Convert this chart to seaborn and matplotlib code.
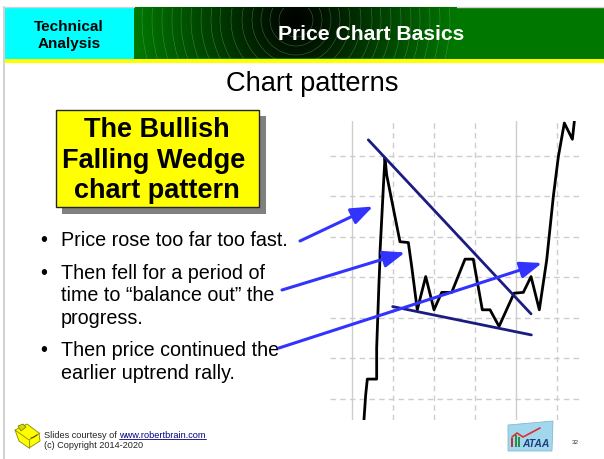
"""
Slide: bullish falling wedge chart pattern, price chart with trend lines.
"""

import numpy as np
import pandas as pd
import matplotlib.pyplot as plt
from matplotlib.patches import Rectangle, Circle, Polygon
import seaborn as sns

sns.set_theme(style="white")
plt.rcParams["font.family"] = ["Liberation Sans", "DejaVu Sans"]

# ── Data ──────────────────────────────────────────────────────────────────────

PRICE_DAY = [1.46, 1.67, 1.87, 3.01, 3.01, 3.29, 3.41, 3.41, 3.62, 3.82, 4.02, 4.23,
             5.85, 6.87, 7.28, 7.96, 8.99, 10.0, 10.94, 12.16, 13.78, 14.79, 15.89,
             16.83, 17.93, 19.76, 20.89, 21.83, 22.84, 23.74, 24.55, 25.16, 25.89,
             26.87, 27.11]
PRICE_VALUE = [-5.2, 1.0, 4.9, 4.9, 12.6, 28.6, 34.3, 36.0, 44.2, 52.1, 59.5, 55.3,
               38.8, 38.6, 32.7, 22.0, 30.2, 22.0, 26.3, 26.3, 34.5, 34.5, 22.0,
               22.0, 17.9, 26.1, 26.3, 30.2, 22.0, 34.3, 50.0, 59.8, 68.1,
               64.1, 68.5]

UPPER_DAY = [1.99, 21.83]
UPPER_VALUE = [63.95, 20.99]
LOWER_DAY = [4.96, 21.87]
LOWER_VALUE = [22.8, 15.8]

SOLID_DAYS = [0, 20]
DASHED_DAYS = [5, 10, 15, 25]
DASHED_VALUES = [0, 10, 20, 30, 40, 50, 60]

BOX_LINES = [(156.5, 137, "The Bullish"), (154, 168, "Falling Wedge"), (157, 198, "chart pattern")]
BULLET_LINES = [
    (246, True, "Price rose too far too fast."),
    (279, True, "Then fell for a period of"),
    (301, False, "time to \u201cbalance out\u201d the"),
    (324, False, "progress."),
    (356, True, "Then price continued the"),
    (379, False, "earlier uptrend rally."),
]
RING_RADII = [17, 26, 35, 44, 54, 65, 76, 85, 95, 105, 115, 124, 134, 144, 154]

# ── Style ─────────────────────────────────────────────────────────────────────

W, H = 604, 459
CYAN = "#00FFFF"
GREEN = "#007800"
YELLOW = "#FFFF00"
ARROW_BLUE = "#3333FF"
WEDGE_BLUE = "#1C1C80"
GRID = "#CDCDCD"

fig = plt.figure(figsize=(W / 100, H / 100), dpi=100, facecolor="white")

# ── Slide layer, in pixels ────────────────────────────────────────────────────

slide = fig.add_axes([0, 0, 1, 1], zorder=1)
slide.axis("off")

slide.plot([3.5, 3.5], [7, H], color="#D2D2D2", lw=1.5)
slide.plot([3, W], [7, 7], color="#D2D2D2", lw=1)
slide.add_patch(Rectangle((4.5, 7.5), 129.5, 51, color=CYAN, lw=0))
slide.add_patch(Rectangle((134, 7.5), W - 134, 51, color=GREEN, lw=0))
slide.add_patch(Rectangle((4.5, 58.5), W - 4.5, 4.5, color=YELLOW, lw=0))

# Banner glow: black centre fading to the banner green
CX, CY, REACH = 296, 20, 162
xx, yy = np.meshgrid(np.linspace(134, 458, 325), np.linspace(7.5, 58.5, 52))
dist = np.hypot(xx - CX, yy - CY) / REACH
glow = np.zeros(xx.shape + (4,))
glow[..., 1] = 0x78 / 255 * np.clip(dist, 0, 1)
glow[..., 3] = np.where(dist < 1, 1, 0)
slide.imshow(glow, extent=(134, 458, 58.5, 7.5), aspect="auto", zorder=2, interpolation="bilinear")
slide.set_xlim(0, W)
slide.set_ylim(H, 0)
clip_band = Rectangle((134, 7.5), 324, 51, transform=slide.transData)
for r in RING_RADII:
    ring = Circle((CX, CY), r, fill=False, ec="#7F9F7F", lw=0.3, alpha=0.7, zorder=3)
    slide.add_patch(ring)
    ring.set_clip_path(clip_band)

slide.text(69, 31, "Technical", ha="center", va="baseline", fontsize=11,
           fontweight="bold", color="black", zorder=4)
slide.text(69, 48, "Analysis", ha="center", va="baseline", fontsize=11,
           fontweight="bold", color="black", zorder=4)
slide.text(371, 40, "Price Chart Basics", ha="center", va="baseline", fontsize=15.2,
           fontweight="bold", color="white", zorder=4)
slide.text(312, 84, "Chart patterns", ha="center", va="center", fontsize=19.6, color="black")

# Callout box
slide.add_patch(Rectangle((62, 116), 204, 98, color="#808080", lw=0, zorder=2))
slide.add_patch(Rectangle((55.7, 110), 203.3, 97, fc=YELLOW, ec="#222222", lw=1, zorder=3))
for x, y, line in BOX_LINES:
    slide.text(x, y, line, ha="center", va="baseline", fontsize=19.5, fontweight="bold",
               color="black", zorder=4)

# Bullets
for y, first, line in BULLET_LINES:
    if first:
        slide.text(44, y, "\u2022", ha="center", va="baseline", fontsize=14.2, color="black", zorder=4)
    slide.text(61, y, line, ha="left", va="baseline", fontsize=14.2, color="black", zorder=4)

# Footer
slide.text(44, 435, "Slides courtesy of ", ha="left", va="center", fontsize=6.6, color="#222222")
slide.text(119, 435, "www.robertbrain.com", ha="left", va="center", fontsize=6.6, color="#000080")
slide.plot([119, 205.5], [439.3, 439.3], color="#000080", lw=0.6)
slide.text(44, 446, "(c) Copyright 2014-2020", ha="left", va="center", fontsize=6.6, color="#222222")
slide.text(575, 442, "32", ha="center", va="center", fontsize=4.5, color="#333333")

# Yellow box icon
slide.add_patch(Polygon([(15, 430), (27, 424), (39, 433), (40, 441), (29, 448), (19, 441)],
                        fc=YELLOW, ec="#8A8A00", lw=0.6))
slide.add_patch(Polygon([(18, 426), (23, 424), (26, 427), (21, 431)], fc="#D8D800", ec="#6E6E00", lw=0.5))
slide.plot([15, 29, 40], [430, 440, 433], color="#8A8A00", lw=0.6)
slide.plot([29, 29], [440, 448], color="#8A8A00", lw=0.6)
slide.plot([31, 34, 37], [438, 437, 435], color="#555500", lw=0.8)

# ATAA logo
slide.add_patch(Polygon([(508, 425), (553, 421), (552, 451), (508, 451)], fc="#A2D8EE", ec="#7AB0C8", lw=0.5))
slide.plot([512, 517, 523, 540], [437, 433, 437, 428], color="#E03030", lw=1.2)
for x0, h0, c0 in [(511, 9, "#C03030"), (514.5, 12, "#2E8B4A"), (518, 10, "#2E8B4A")]:
    slide.add_patch(Rectangle((x0, 447 - h0), 2.2, h0, color=c0, lw=0))
slide.text(535.5, 444, "ATAA", ha="center", va="center", fontsize=7.5, fontweight="bold",
           fontstyle="italic", color="#1F3F7F")

# ── Price chart ───────────────────────────────────────────────────────────────

left, right, top_px, bottom_px = 330, 580, 121, 420
ax = fig.add_axes([left / W, 1 - bottom_px / H, (right - left) / W, (bottom_px - top_px) / H], zorder=2)
ax.patch.set_alpha(0)
for spine in ax.spines.values():
    spine.set_visible(False)
ax.set_xlim(-2.68, 27.8)
ax.set_ylim(-5.2, 68.6)
ax.tick_params(left=False, bottom=False, labelleft=False, labelbottom=False)

for d in SOLID_DAYS:
    ax.axvline(d, color=GRID, lw=1, zorder=1)
for d in DASHED_DAYS:
    ax.axvline(d, color=GRID, lw=1, ls=(0, (4, 3)), zorder=1)
for v in DASHED_VALUES:
    ax.axhline(v, color=GRID, lw=1, ls=(0, (4, 3)), zorder=1)

prices = pd.DataFrame({"day": PRICE_DAY, "price": PRICE_VALUE})
sns.lineplot(data=prices, x="day", y="price", ax=ax, color="black", lw=2, sort=False,
             estimator=None, zorder=3)
sns.lineplot(x=UPPER_DAY, y=UPPER_VALUE, ax=ax, color=WEDGE_BLUE, lw=2, zorder=4)
sns.lineplot(x=LOWER_DAY, y=LOWER_VALUE, ax=ax, color=WEDGE_BLUE, lw=2, zorder=4)
ax.set_xlabel("")
ax.set_ylabel("")

# ── Arrows over everything ────────────────────────────────────────────────────

top_layer = fig.add_axes([0, 0, 1, 1], zorder=3)
top_layer.set_xlim(0, W)
top_layer.set_ylim(H, 0)
top_layer.axis("off")
for start, tip in [((300, 241), (373, 206.5)), ((282, 290), (405, 252.5)), ((279, 348), (542, 263))]:
    top_layer.annotate("", xy=tip, xytext=start,
                       arrowprops=dict(arrowstyle="-|>,head_length=1.1,head_width=0.42",
                                       color=ARROW_BLUE, lw=2.2, shrinkA=0, shrinkB=0,
                                       mutation_scale=12))

fig.savefig("out.png", dpi=100)
